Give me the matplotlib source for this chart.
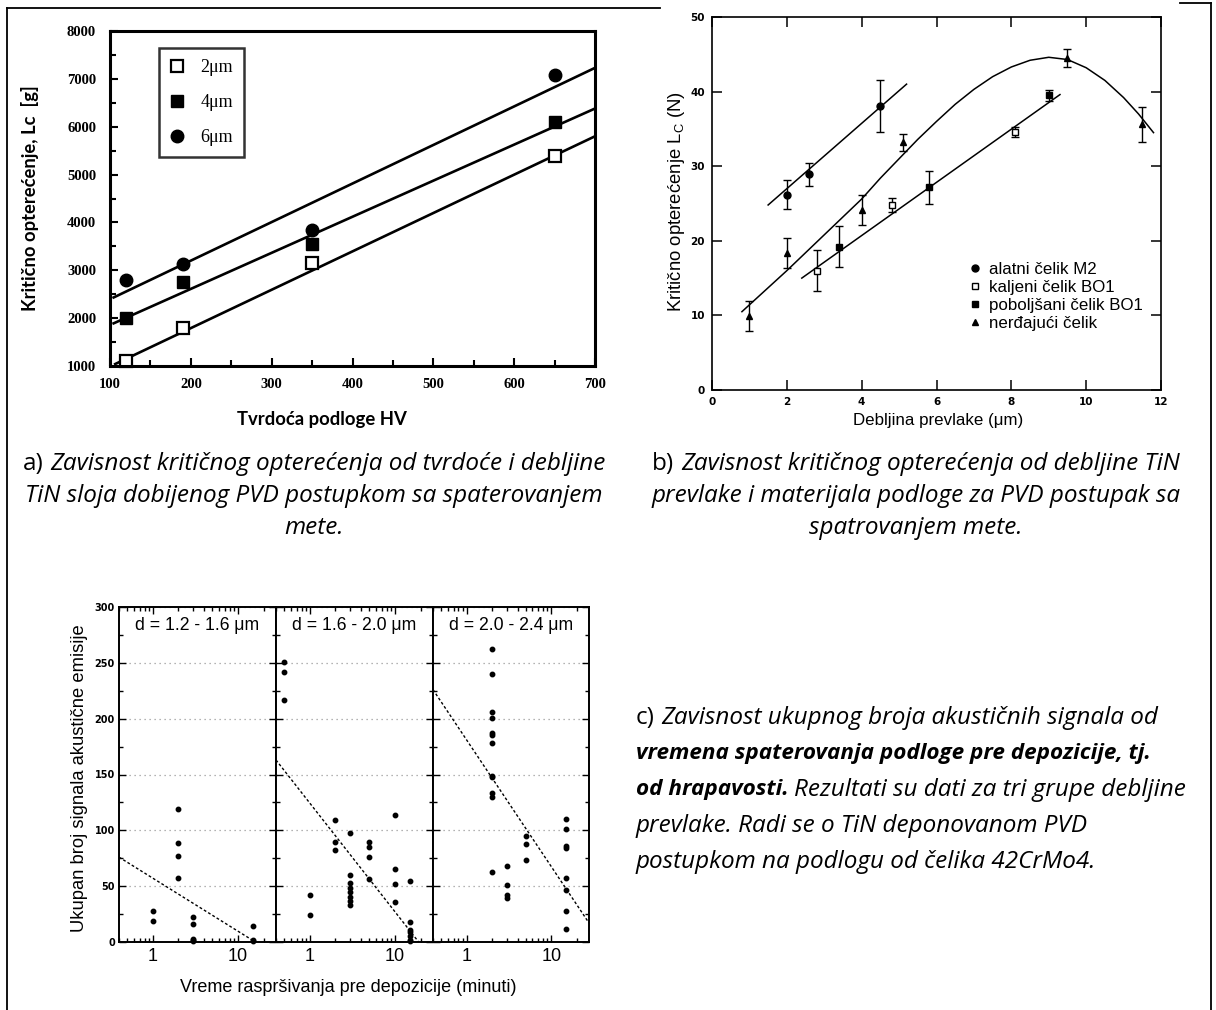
import matplotlib
matplotlib.use("Agg")
import matplotlib.pyplot as plt
from matplotlib.lines import Line2D
from matplotlib.ticker import MultipleLocator, FixedLocator, FixedFormatter, LogLocator, NullFormatter

W, H = 1216, 1010

# ---------------- panel a: critical load vs substrate hardness
hv = [120, 190, 350, 650]
lc_2um = [1100, 1800, 3150, 5380]
lc_4um = [2000, 2750, 3550, 6100]
lc_6um = [2800, 3130, 3850, 7080]
fit_2um_x, fit_2um_y = [105, 700], [1030, 5800]
fit_4um_x, fit_4um_y = [103, 700], [1880, 6380]
fit_6um_x, fit_6um_y = [103, 700], [2420, 7230]

# ---------------- panel b: critical load vs coating thickness
m2_x = [2.0, 2.6, 4.5]
m2_y = [26.2, 28.9, 38.1]
m2_err = [2.0, 1.5, 3.5]
kalj_x = [2.8, 4.8, 8.1]
kalj_y = [16.0, 24.8, 34.6]
kalj_err = [2.75, 1.0, 0.7]
pob_x = [3.4, 5.8, 9.0]
pob_y = [19.2, 27.2, 39.5]
pob_err = [2.75, 2.2, 0.7]
nerd_x = [1.0, 2.0, 4.0, 5.1, 9.5, 11.5]
nerd_y = [9.9, 18.4, 24.1, 33.2, 44.5, 35.6]
nerd_err = [2.0, 2.0, 2.0, 1.1, 1.25, 2.4]
m2_line_x, m2_line_y = [1.5, 5.2], [24.8, 41.0]
bo1_line_x, bo1_line_y = [2.4, 9.3], [15.0, 39.6]
curve_x = [0.8, 2, 3, 4, 4.5, 5, 5.5, 6, 6.5, 7, 7.5, 8, 8.5, 9, 9.5, 10, 10.5, 11, 11.4, 11.8]
curve_y = [10.5, 16.0, 20.8, 25.6, 28.4, 31.0, 33.6, 36.0, 38.3, 40.3, 42.0, 43.3, 44.2, 44.6,
           44.3, 43.2, 41.5, 39.2, 37.0, 34.5]
legend_b = ["alatni čelik M2", "kaljeni čelik BO1", "poboljšani čelik BO1", "nerđajući čelik"]

# ---------------- panel c: acoustic emission counts vs sputter time
c_titles = ["d = 1.2 - 1.6 μm", "d = 1.6 - 2.0 μm", "d = 2.0 - 2.4 μm"]
c1_x = [1, 1, 2, 2, 2, 2, 3, 3, 3, 3, 3, 15, 15, 15]
c1_y = [28, 19, 119, 89, 77, 57, 22, 16, 3, 1.5, 0.5, 14, 2, 0.5]
c2_x = [0.5, 0.5, 0.5, 1, 1, 2, 2, 2, 3, 3, 3, 3, 3, 3, 3, 3, 5, 5, 5, 5,
        10, 10, 10, 10, 15, 15, 15, 15, 15, 15, 15]
c2_y = [251, 242, 217, 42, 24, 109, 90, 82, 98, 60, 53, 48, 45, 40, 37, 33, 90, 85, 76, 56,
        114, 65, 52, 36, 55, 18, 11, 9, 5, 2, 1]
c3_x = [2] * 12 + [3] * 4 + [5] * 3 + [15] * 8
c3_y = [262, 240, 206, 201, 187, 185, 178, 149, 148, 133, 130, 62.5,
        68, 51, 42, 39, 95, 88, 73, 110, 101, 86, 84, 57, 47, 28, 12]
c1_trend_x, c1_trend_y = [0.4, 16], [76, 0]
c2_trend_x, c2_trend_y = [0.4, 19], [163, 0]
c3_trend_x, c3_trend_y = [0.4, 28], [226, 17]

fig = plt.figure(figsize=(W / 100, H / 100), dpi=100)


def px_axes(l, t, r, b):
    return fig.add_axes([l / W, 1 - b / H, (r - l) / W, (b - t) / H])


# page frame (table cell borders)
bg = fig.add_axes([0, 0, 1, 1], zorder=-5)
bg.set_xlim(0, W)
bg.set_ylim(H, 0)
bg.axis("off")
for xs, ys in [([7, 7], [8, H]), ([7, 660], [8, 8]), ([1211, 1211], [3, H]), ([1180, 1211], [3, 3])]:
    bg.plot(xs, ys, color="k", lw=1.3)

# ---------------- panel a
ax = px_axes(110, 31, 595, 366)
for xs, ys in [(fit_2um_x, fit_2um_y), (fit_4um_x, fit_4um_y), (fit_6um_x, fit_6um_y)]:
    ax.plot(xs, ys, color="k", lw=1.9, solid_capstyle="butt")
ax.plot(hv, lc_2um, "s", mfc="white", mec="k", mew=1.6, ms=8.5, label="2μm", clip_on=False)
ax.plot(hv, lc_4um, "s", color="k", ms=8.5, label="4μm")
ax.plot(hv, lc_6um, "o", color="k", ms=9, label="6μm")
ax.set_xlim(100, 700)
ax.set_ylim(1000, 8000)
ax.xaxis.set_major_locator(MultipleLocator(100))
ax.xaxis.set_minor_locator(MultipleLocator(50))
ax.yaxis.set_major_locator(MultipleLocator(1000))
ax.yaxis.set_minor_locator(MultipleLocator(500))
ax.tick_params(which="both", direction="in", width=1.5)
ax.tick_params(which="major", length=6)
ax.tick_params(which="minor", length=4)
ax.tick_params(axis="y", pad=10)
ax.tick_params(axis="x", pad=9)
for lab in ax.get_xticklabels() + ax.get_yticklabels():
    lab.set_fontfamily("Liberation Serif")
    lab.set_fontweight("bold")
    lab.set_fontsize(10.5)
for sp in ax.spines.values():
    sp.set_linewidth(2.2)
leg = ax.legend(loc="upper left", bbox_to_anchor=(0.101, 0.949), frameon=True, fancybox=False,
                edgecolor="k", prop={"family": "Liberation Serif", "size": 13},
                handlelength=0.8, handletextpad=0.9, labelspacing=1.0, borderpad=0.6,
                borderaxespad=0)
leg.get_frame().set_linewidth(1.8)
fig.text(30 / W, 1 - 198 / H, "Kritično opterećenje, Lc  [g]", rotation=90, ha="center", va="center",
         family="Lato", weight="bold", fontsize=13.2)
fig.text(322 / W, 1 - 420 / H, "Tvrdoća podloge HV", ha="center", va="center",
         family="Lato", weight="bold", fontsize=13.3)

# ---------------- panel b
bx = px_axes(712, 17, 1161, 390)
bx.plot(m2_line_x, m2_line_y, color="k", lw=1.1)
bx.plot(bo1_line_x, bo1_line_y, color="k", lw=1.1)
bx.plot(curve_x, curve_y, color="k", lw=1.1)
eb = dict(color="k", ecolor="k", elinewidth=1.0, capsize=3, capthick=1.0, ls="none")
bx.errorbar(m2_x, m2_y, yerr=m2_err, fmt="o", ms=5, **eb)
bx.errorbar(kalj_x, kalj_y, yerr=kalj_err, fmt="s", ms=5, mfc="white", mec="k", mew=1, **eb)
bx.errorbar(pob_x, pob_y, yerr=pob_err, fmt="s", ms=5, **eb)
bx.errorbar(nerd_x, nerd_y, yerr=nerd_err, fmt="^", ms=4, **eb)
bx.set_xlim(0, 12)
bx.set_ylim(0, 50)
bx.xaxis.set_major_locator(MultipleLocator(2))
bx.yaxis.set_major_locator(MultipleLocator(10))
bx.tick_params(direction="in", top=True, right=True, length=7, width=1.1, pad=5)
for lab in bx.get_xticklabels() + bx.get_yticklabels():
    lab.set_fontfamily("DejaVu Sans")
    lab.set_fontweight("bold")
    lab.set_fontsize(7.5)
for sp in bx.spines.values():
    sp.set_linewidth(1.2)
handles_b = [
    Line2D([], [], marker="o", ls="none", color="k", ms=5),
    Line2D([], [], marker="s", ls="none", mfc="white", mec="k", ms=5),
    Line2D([], [], marker="s", ls="none", color="k", ms=5),
    Line2D([], [], marker="^", ls="none", color="k", ms=4),
]
bx.legend(handles_b, legend_b, loc="upper left", bbox_to_anchor=(0.575, 0.343), frameon=False,
          prop={"family": "Liberation Sans", "size": 12.2}, handlelength=0.6, handletextpad=0.5,
          labelspacing=0.17, borderpad=0, borderaxespad=0)
fig.text(677 / W, 1 - 202 / H, "Kritično opterećenje L$_{\\mathregular{C}}$ (N)", rotation=90,
         ha="center", va="center", family="Liberation Sans", fontsize=13.3)
fig.text(938 / W, 1 - 421 / H, "Debljina prevlake (μm)", ha="center", va="center",
         family="Liberation Sans", fontsize=12.2)

# ---------------- panel c
c_edges = [(119, 276), (276, 433), (433, 589)]
c_sets = [(c1_x, c1_y, c1_trend_x, c1_trend_y),
          (c2_x, c2_y, c2_trend_x, c2_trend_y),
          (c3_x, c3_y, c3_trend_x, c3_trend_y)]
for i, ((l, r), (xs, ys, tx, ty)) in enumerate(zip(c_edges, c_sets)):
    cx = px_axes(l, 607, r, 942)
    cx.set_xscale("log")
    cx.set_xlim(0.4, 28)
    cx.set_ylim(0, 300)
    cx.yaxis.set_major_locator(MultipleLocator(50))
    cx.yaxis.set_minor_locator(MultipleLocator(25))
    cx.yaxis.grid(True, which="major", color="#9a9a9a", linestyle=(0, (1, 3)), lw=0.9)
    cx.plot(tx, ty, color="k", lw=1.0, ls=(0, (2, 1.6)))
    cx.plot(xs, ys, "o", color="k", ms=3.2, clip_on=False)
    cx.xaxis.set_major_locator(FixedLocator([1, 10]))
    cx.xaxis.set_major_formatter(FixedFormatter(["1", "10"]))
    cx.xaxis.set_minor_locator(LogLocator(base=10, subs=range(2, 10)))
    cx.xaxis.set_minor_formatter(NullFormatter())
    cx.tick_params(which="both", direction="in", top=True, right=True, width=1.0)
    cx.tick_params(which="major", length=5, pad=4)
    cx.tick_params(which="minor", length=3)
    cx.tick_params(axis="x", labelsize=13)
    for lab in cx.get_xticklabels():
        lab.set_fontfamily("Liberation Sans")
    if i == 0:
        for lab in cx.get_yticklabels():
            lab.set_fontfamily("DejaVu Sans")
            lab.set_fontweight("bold")
            lab.set_fontsize(7)
        cx.tick_params(axis="y", pad=3)
    else:
        cx.tick_params(axis="y", labelleft=False)
    for sp in cx.spines.values():
        sp.set_linewidth(1.4)
    cx.text(0.5, 0.946, c_titles[i], transform=cx.transAxes, ha="center", va="center",
            family="Liberation Sans", fontsize=12.7)
fig.text(80 / W, 1 - 778 / H, "Ukupan broj signala akustične emisije", rotation=90,
         ha="center", va="center", family="Liberation Sans", fontsize=13.2)
fig.text(348 / W, 1 - 988 / H, "Vreme raspršivanja pre depozicije (minuti)", ha="center",
         va="center", family="Liberation Sans", fontsize=13)

# ---------------- captions (mixed upright / italic / bold italic runs)
renderer = fig.canvas.get_renderer()
CAP = 17.5
up = dict(family="Open Sans", fontsize=CAP)
it = dict(family="Open Sans", style="italic", fontsize=CAP)
bi = dict(family="Open Sans", style="italic", weight="bold", fontsize=CAP - 1.3)


def text_width(s, kw):
    t = fig.text(0, 0, s, **kw)
    w = t.get_window_extent(renderer).width
    t.remove()
    return w


def put_line(pieces, x, y, ha="left"):
    widths = [text_width(s, kw) for s, kw in pieces]
    gaps = [text_width("a a", kw) - text_width("aa", kw) for s, kw in pieces[:-1]]
    total = sum(widths) + sum(gaps)
    x0 = x - total / 2 if ha == "center" else x
    for k, ((s, kw), w) in enumerate(zip(pieces, widths)):
        fig.text(x0 / W, 1 - y / H, s, ha="left", va="center", **kw)
        x0 += w + (gaps[k] if k < len(gaps) else 0)


put_line([("a)", up), ("Zavisnost kritičnog opterećenja od tvrdoće i debljine", it)], 314, 464, "center")
put_line([("TiN sloja dobijenog PVD postupkom sa spaterovanjem", it)], 314, 496, "center")
put_line([("mete.", it)], 314, 528, "center")

put_line([("b)", up), ("Zavisnost kritičnog opterećenja od debljine TiN", it)], 916, 464, "center")
put_line([("prevlake i materijala podloge za PVD postupak sa", it)], 916, 496, "center")
put_line([("spatrovanjem mete.", it)], 916, 528, "center")

put_line([("c)", up), ("Zavisnost ukupnog broja akustičnih signala od", it)], 636, 718)
put_line([("vremena spaterovanja podloge pre depozicije, tj.", bi)], 636, 754)
put_line([("od hrapavosti.", bi), ("Rezultati su dati za tri grupe debljine", it)], 636, 790)
put_line([("prevlake. Radi se o TiN deponovanom PVD", it)], 636, 826)
put_line([("postupkom na podlogu od čelika 42CrMo4.", it)], 636, 862)

fig.savefig("out.png", dpi=100)
